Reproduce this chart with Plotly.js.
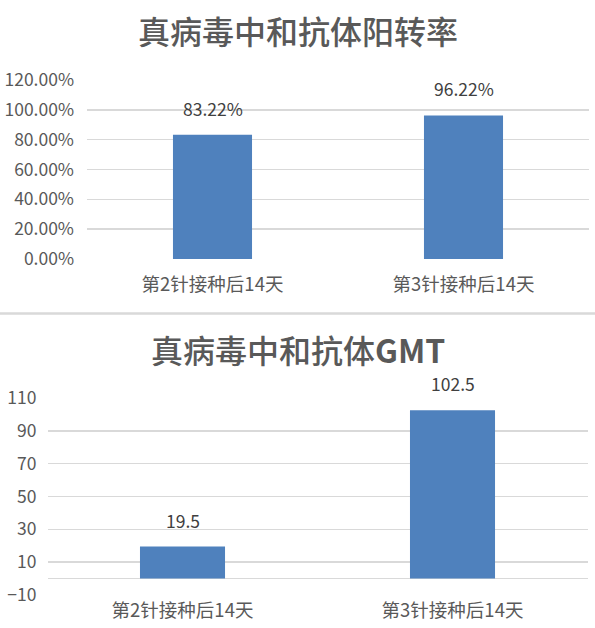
<!DOCTYPE html>
<html>
<head>
<meta charset="utf-8">
<script src="https://cdn.plot.ly/plotly-3.0.1.min.js"></script>
<style>
  html, body { margin: 0; padding: 0; background: #fff; }
  #chart { width: 595px; height: 628px; }
</style>
</head>
<body>
<div id="chart"></div>
<script>
// Daten
const categories = ["第2针接种后14天", "第3针接种后14天"];
const seroRate = [0.8322, 0.9622];
const gmtValues = [19.5, 102.5];
const titleTop = "真病毒中和抗体阳转率";
const titleBottom = "真病毒中和抗体<b>GMT</b>";

const barColor = "#4f81bd";
const textColor = "#595959";
const gridColor = "#d9d9d9";
const cjk = "'Noto Sans CJK SC', 'Liberation Sans', sans-serif";

const traceTop = {
  type: "bar",
  x: categories,
  y: seroRate,
  width: 0.315,
  marker: { color: barColor },
  xaxis: "x",
  yaxis: "y",
  hoverinfo: "none",
};

const traceBottom = {
  type: "bar",
  x: categories,
  y: gmtValues,
  width: 0.315,
  marker: { color: barColor },
  xaxis: "x2",
  yaxis: "y2",
  hoverinfo: "none",
};

// Datenbeschriftungen oberhalb der Balken
const labelFont = { size: 17.5, color: "#404040", family: cjk };

const labelsTop = categories.map((c, i) => ({
  x: c,
  y: seroRate[i],
  xref: "x",
  yref: "y",
  text: (seroRate[i] * 100).toFixed(2) + "%",
  showarrow: false,
  yanchor: "bottom",
  yshift: 12,
  font: labelFont,
}));

const labelsBottom = categories.map((c, i) => ({
  x: c,
  y: gmtValues[i],
  xref: "x2",
  yref: "y2",
  text: String(gmtValues[i]),
  showarrow: false,
  yanchor: "bottom",
  yshift: 12,
  font: labelFont,
}));

const titleFont = { size: 32, color: textColor, family: cjk, weight: 500 };

const titles = [
  {
    x: 0.5, y: 1 - 30 / 628, xref: "paper", yref: "paper",
    yanchor: "middle",
    text: titleTop, showarrow: false,
    font: titleFont,
  },
  {
    x: 0.5, y: 1 - 349 / 628, xref: "paper", yref: "paper",
    yanchor: "middle",
    text: titleBottom, showarrow: false,
    font: titleFont,
  },
];

const tickFont = { size: 17.5, color: textColor, family: cjk };
const catFont = { size: 18.5, color: textColor, family: cjk };

const layout = {
  width: 595,
  height: 628,
  margin: { l: 0, r: 0, t: 0, b: 0 },
  paper_bgcolor: "#fff",
  plot_bgcolor: "#fff",
  showlegend: false,
  xaxis: {
    domain: [87 / 595, 589 / 595],
    anchor: "y",
    showgrid: false,
    showline: false,
    ticks: "",
    tickfont: catFont,
    ticklabelstandoff: 12,
    fixedrange: true,
  },
  yaxis: {
    domain: [1 - 259 / 628, 1 - 80 / 628],
    anchor: "x",
    range: [0, 1.2],
    tickvals: [0, 0.2, 0.4, 0.6, 0.8, 1.0, 1.2],
    tickformat: ".2%",
    gridcolor: gridColor,
    gridwidth: 1.5,
    zeroline: false,
    showline: false,
    tickfont: tickFont,
    ticklabelstandoff: 12,
    fixedrange: true,
  },
  xaxis2: {
    domain: [47.5 / 595, 587.5 / 595],
    anchor: "y2",
    showgrid: false,
    showline: false,
    ticks: "",
    tickfont: catFont,
    ticklabelstandoff: 2,
    fixedrange: true,
  },
  yaxis2: {
    domain: [1 - 595 / 628, 1 - 398 / 628],
    anchor: "x2",
    range: [-10, 110],
    tick0: -10,
    dtick: 20,
    gridcolor: gridColor,
    gridwidth: 1.5,
    zeroline: true,
    zerolinecolor: gridColor,
    zerolinewidth: 1.5,
    showline: false,
    tickfont: tickFont,
    ticklabelstandoff: 10,
    fixedrange: true,
  },
  shapes: [
    {
      type: "line",
      xref: "paper", yref: "paper",
      x0: 0, x1: 1,
      y0: 1 - 313.5 / 628, y1: 1 - 313.5 / 628,
      line: { color: gridColor, width: 2.5 },
    },
  ],
  annotations: [...titles, ...labelsTop, ...labelsBottom],
};

Plotly.newPlot("chart", [traceTop, traceBottom], layout, {
  staticPlot: true,
  displayModeBar: false,
});
</script>
</body>
</html>
